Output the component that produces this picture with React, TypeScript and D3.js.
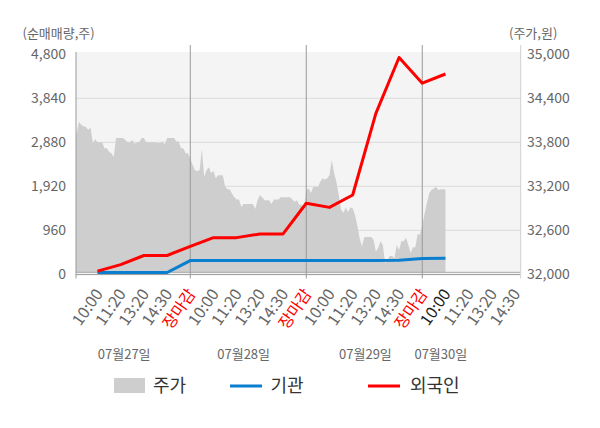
import React from "react";
import * as d3 from "d3";

// chart data
const dates = ["07월27일", "07월28일", "07월29일", "07월30일"];
const sessionTimes = ["10:00", "11:20", "13:20", "14:30"];
const closeLabel = "장마감";

const volumeTicks = [0, 960, 1920, 2880, 3840, 4800];
const priceTicks = [32000, 32600, 33200, 33800, 34400, 35000];

// net buying (shares), one value per tick slot 1..16
const institution = [40, 40, 40, 40, 300, 300, 300, 300, 300, 300, 300, 300, 300, 305, 345, 350];
const foreigner = [70, 210, 410, 410, 610, 800, 800, 880, 880, 1550, 1460, 1730, 3510, 4730, 4170, 4370];

// intraday price (won), ten samples per tick slot
const priceDay1 = [
  33910, 33910, 34080, 34040, 34020, 34010, 33970, 34000, 33790, 33840,
  33800, 33800, 33800, 33720, 33720, 33670, 33650, 33600, 33860, 33860,
  33860, 33860, 33830, 33800, 33800, 33830, 33780, 33800, 33800, 33860,
  33860, 33800, 33800, 33800, 33800, 33800, 33790, 33790, 33810, 33770,
  33860, 33860, 33860, 33860, 33810, 33810, 33720, 33720, 33650, 33650,
];
const priceDay2 = [
  33580, 33490, 33420, 33410, 33420, 33710, 33330, 33420, 33460, 33380,
  33410, 33310, 33350, 33350, 33350, 33200, 33160, 33160, 33100, 33050,
  33020, 33020, 32920, 32960, 32960, 32960, 32960, 32960, 32890, 33010,
  33080, 33050, 33010, 33010, 33010, 32960, 33020, 33020, 33020, 33050,
  33050, 33050, 33050, 33050, 33020, 32990, 33010, 32950, 32950, 32910,
];
const priceDay3 = [
  33150, 33170, 33110, 33190, 33190, 33190, 33260, 33310, 33290, 33310,
  33350, 33560, 33380, 33260, 33080, 32880, 32840, 32910, 32850, 32910,
  32900, 32810, 32670, 32490, 32380, 32510, 32510, 32510, 32510, 32470,
  32310, 32360, 32450, 32400, 32150, 32200, 32250, 32250, 32220, 32400,
  32330, 32450, 32450, 32500, 32400, 32290, 32370, 32370, 32550, 32540,
];
const priceDay4 = [32670, 32830, 32970, 33110, 33150, 33170, 33190, 33150, 33160, 33160, 33160];

const priceDays = [priceDay1, priceDay2, priceDay3, priceDay4];
const dateLabelSlots = [2.15, 7.3, 12.55, 15.8];

const width = 600;
const height = 428;
const plot = { left: 76, right: 520, top: 52, bottom: 274.3 };
const slotsPerDay = 5;

const font = "'Noto Sans CJK KR', 'Noto Sans', sans-serif";

type Tick = { slot: number; label: string; kind: "time" | "close" | "now" };

export default function App() {
  const x = d3.scaleLinear().domain([0, 19.2]).range([74.3, 519.7]);
  const yVol = d3.scaleLinear().domain([0, 4800]).range([plot.bottom, 54.3]);
  const yPrice = d3.scaleLinear().domain([32000, 35000]).range([plot.bottom, 54.3]);

  const ticks: Tick[] = [];
  dates.forEach((_, d) => {
    sessionTimes.forEach((t, i) =>
      ticks.push({
        slot: d * slotsPerDay + i + 1,
        label: t,
        kind: d === dates.length - 1 && i === 0 ? "now" : "time",
      }),
    );
    if (d < dates.length - 1) {
      ticks.push({ slot: (d + 1) * slotsPerDay, label: closeLabel, kind: "close" });
    }
  });

  const pricePoints = priceDays.flatMap((day, d) =>
    day.map((p, j) => ({ slot: d * slotsPerDay + j * 0.1, price: p })),
  );

  const area = d3
    .area<{ slot: number; price: number }>()
    .x((p) => x(p.slot))
    .y0(272.3)
    .y1((p) => yPrice(p.price));

  const line = d3
    .line<number>()
    .x((_, i) => x(i + 1))
    .y((v) => yVol(v));

  const dividers = ticks.filter((t) => t.kind === "close");

  return (
    <svg
      width={width}
      height={height}
      style={{ position: "absolute", left: 0, top: 0, background: "#fff" }}
      fontFamily={font}
    >
      <defs>
        <clipPath id="plot-clip">
          <rect x={plot.left} y={plot.top} width={plot.right - plot.left} height={plot.bottom - plot.top} />
        </clipPath>
      </defs>

      <rect
        x={plot.left}
        y={plot.top}
        width={plot.right - plot.left}
        height={plot.bottom - plot.top}
        fill="#f4f4f4"
      />

      {volumeTicks.slice(1, -1).map((v) => (
        <line key={v} x1={plot.left} x2={plot.right} y1={yVol(v)} y2={yVol(v)} stroke="#dadada" strokeWidth={1} />
      ))}

      <path d={area(pricePoints) ?? ""} fill="#cecece" clipPath="url(#plot-clip)" />

      <line x1={plot.left} x2={plot.right} y1={272.3} y2={272.3} stroke="#a8a8a8" strokeWidth={1} />
      <line x1={plot.left} x2={plot.right} y1={274.6} y2={274.6} stroke="#999" strokeWidth={1} />

      {dividers.map((t) => (
        <line key={t.slot} x1={x(t.slot)} x2={x(t.slot)} y1={45} y2={278.5} stroke="#999" strokeWidth={1} />
      ))}
      <line x1={plot.left} x2={plot.left} y1={52} y2={278.5} stroke="#999" strokeWidth={1} />
      <line x1={plot.right + 0.7} x2={plot.right + 0.7} y1={45} y2={278.5} stroke="#cfcfcf" strokeWidth={1} />

      <path d={line(institution) ?? ""} fill="none" stroke="#0a7fcf" strokeWidth={3} />
      <path d={line(foreigner) ?? ""} fill="none" stroke="#ff0000" strokeWidth={3} strokeLinejoin="round" />

      {volumeTicks.map((v) => (
        <text key={v} x={66} y={yVol(v)} dy="0.35em" textAnchor="end" fontSize={14} fill="#666">
          {d3.format(",")(v)}
        </text>
      ))}
      {priceTicks.map((p) => (
        <text key={p} x={527} y={yPrice(p)} dy="0.35em" fontSize={14} fill="#666">
          {d3.format(",")(p)}
        </text>
      ))}

      <text x={22.5} y={37.5} fontSize={13} fill="#666">
        (순매매량,주)
      </text>
      <text x={509} y={37.5} fontSize={13} fill="#666">
        (주가,원)
      </text>

      {ticks.map((t) => (
        <text
          key={`${t.slot}-${t.label}`}
          transform={`translate(${x(t.slot) + 6},294) rotate(-55)`}
          textAnchor="end"
          fontSize={16}
          fill={t.kind === "close" ? "#ff0000" : t.kind === "now" ? "#222" : "#666"}
        >
          {t.label}
        </text>
      ))}

      {dates.map((d, i) => (
        <text key={d} x={x(dateLabelSlots[i])} y={358.5} textAnchor="middle" fontSize={13} fill="#666">
          {d}
        </text>
      ))}

      <g fontSize={18} fill="#333">
        <rect x={114} y={378} width={31} height={15} fill="#cecece" />
        <text x={153} y={391.5}>주가</text>
        <line x1={230} x2={262} y1={386} y2={386} stroke="#0a7fcf" strokeWidth={3} />
        <text x={270.5} y={391.5}>기관</text>
        <line x1={368} x2={400} y1={386} y2={386} stroke="#ff0000" strokeWidth={3} />
        <text x={410} y={391.5}>외국인</text>
      </g>
    </svg>
  );
}
